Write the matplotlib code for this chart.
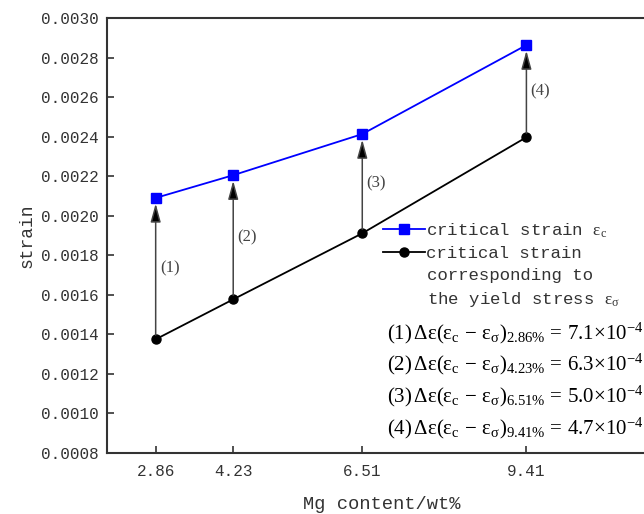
#recreating critical strain vs Mg content plot
import numpy as np
import matplotlib
matplotlib.use('Agg')
import matplotlib.pyplot as plt

plt.rcParams['font.family'] = ['Liberation Mono', 'DejaVu Sans']
plt.rcParams['mathtext.fontset'] = 'custom'
plt.rcParams['mathtext.rm'] = 'Liberation Serif'
plt.rcParams['mathtext.it'] = 'Liberation Serif:italic'

# data
mg = [2.86, 4.23, 6.51, 9.41]
eps_c = [0.00209, 0.002205, 0.002413, 0.002863]
eps_sigma = [0.001375, 0.001577, 0.001911, 0.002397]
arrow_labels = ['(1)', '(2)', '(3)', '(4)']
mg_text = ['2.86', '4.23', '6.51', '9.41']
diff_text = ['7.1', '6.3', '5.0', '4.7']
yticks = [0.0008, 0.0010, 0.0012, 0.0014, 0.0016, 0.0018, 0.0020,
          0.0022, 0.0024, 0.0026, 0.0028, 0.0030]

fig = plt.figure(figsize=(6.44, 5.14), dpi=100)
# axes runs a bit past the right edge of the picture (cropped like the original)
axw = 549
ax = fig.add_axes([107/644, 61/514, axw/644, 435/514])

ax.plot(mg, eps_c, color='#0000ff', lw=1.3, marker='s', ms=7,
        label=r'critical strain $\mathrm{ε_c}$', zorder=3)
ax.plot(mg, eps_sigma, color='black', lw=1.3, marker='o', ms=6.5,
        label='critical strain', zorder=3)

# arrows from eps_sigma up to eps_c
for x, lo, hi, lab in zip(mg, eps_sigma, eps_c, arrow_labels):
    ax.annotate('', xy=(x, hi), xytext=(x, lo),
                arrowprops=dict(arrowstyle='-|>,head_length=0.8,head_width=0.22',
                                fc='black', ec='#444444', lw=1.1, shrinkA=3, shrinkB=4,
                                mutation_scale=14))
    ax.annotate(lab, xy=(x, (lo + hi) / 2), xytext=(3, 0), textcoords='offset points',
                va='center', ha='left', fontsize=12, color='#444444',
                family='Liberation Serif')

# formula lines
for i in range(len(mg)):
    s = (arrow_labels[i] + r'$\,\mathrm{Δε(ε_c\,-\,ε_σ)_{' + mg_text[i] + r'\%}\,=\,'
         + diff_text[i] + r'{×}10^{-4}}$')
    ax.text((387 - 107) / axw, 0.276 - i * 0.073, s, transform=ax.transAxes, fontsize=15,
            family='Liberation Serif', va='center', ha='left')

# rest of the second legend label
ax.text((427 - 107) / axw, 0.409, 'corresponding to', transform=ax.transAxes,
        fontsize=12.5, va='center', ha='left', color='#333333')
ax.text((427 - 107) / axw, 0.352, 'the yield stress $\\mathrm{ε_σ}$', transform=ax.transAxes,
        fontsize=12.5, va='center', ha='left', color='#333333')

ax.set_xlim(2, 2 + axw / 56.6)
ax.set_ylim(0.0008, 0.0030)
ax.set_xticks(mg)
ax.set_xticklabels(mg_text)
ax.set_yticks(yticks)
ax.set_yticklabels(['%.4f' % v for v in yticks])
ax.tick_params(axis='both', direction='in', length=5, width=1.2, labelsize=11.5,
               colors='#333333', labelcolor='#333333')
ax.tick_params(axis='x', pad=8)
ax.tick_params(axis='y', pad=6)
for sp in ax.spines.values():
    sp.set_linewidth(1.5)
    sp.set_color('#333333')
ax.spines['right'].set_visible(False)

ax.set_xlabel('Mg content/wt%', fontsize=13.5, color='#333333', labelpad=12)
ax.set_ylabel('strain', fontsize=13, color='#333333', labelpad=4)

leg = ax.legend(loc='upper left', bbox_to_anchor=((383 - 107) / axw, 0.533), frameon=False,
                fontsize=12.5, handlelength=2.4, handletextpad=0.1, borderpad=0,
                borderaxespad=0, labelspacing=0.35)
for t in leg.get_texts():
    t.set_color('#333333')

plt.savefig('out.png', dpi=100)
